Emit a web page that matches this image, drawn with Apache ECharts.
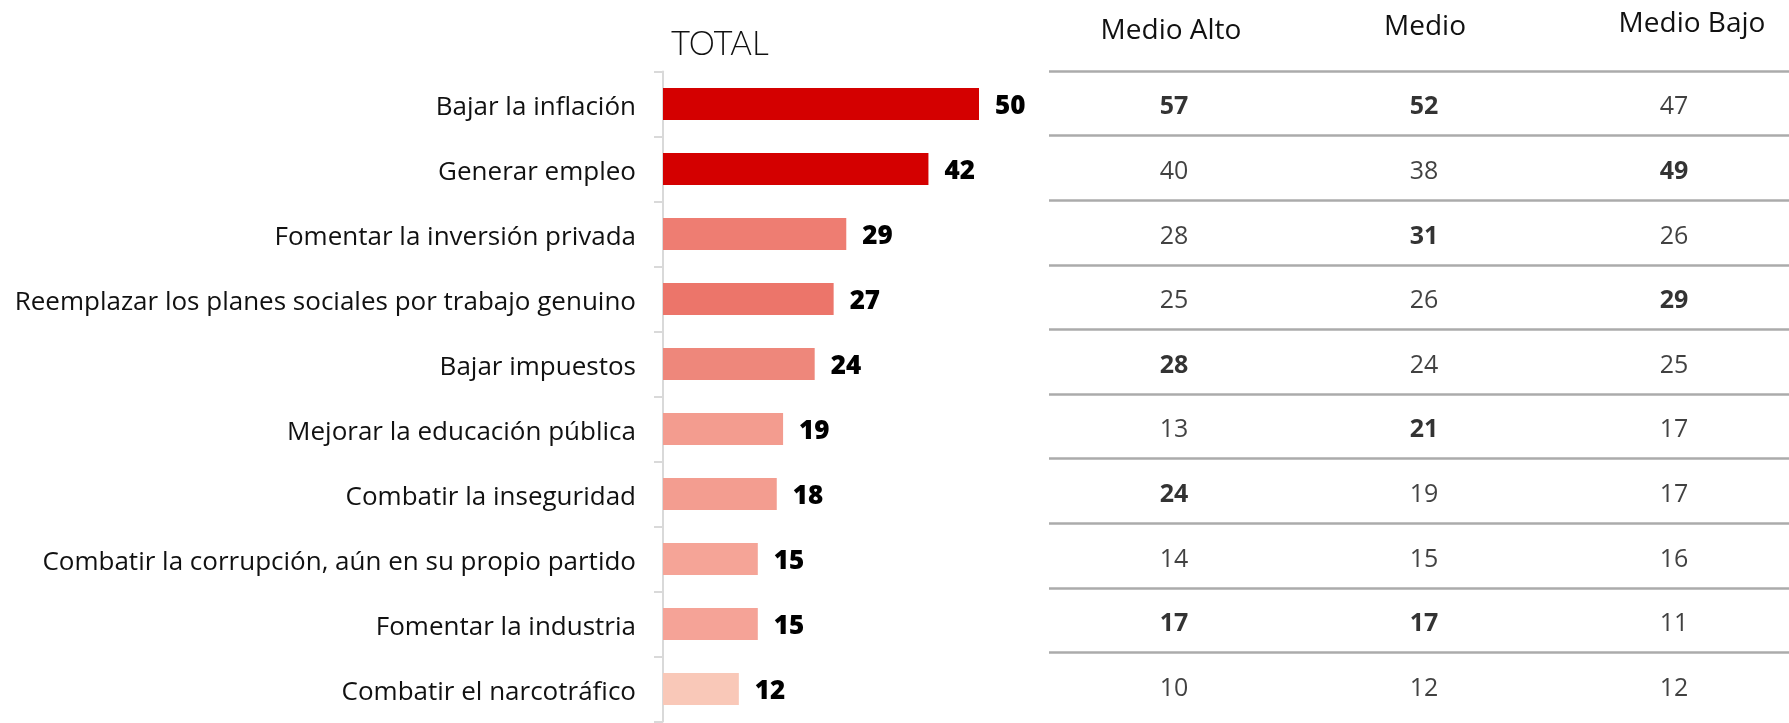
<!DOCTYPE html>
<html><head><meta charset="utf-8">
<script src="https://cdn.jsdelivr.net/npm/echarts@6/dist/echarts.min.js"></script>
<style>html,body{margin:0;padding:0;background:#fff}#c{width:1789px;height:723px}</style>
</head><body><div id="c"></div>
<script>
const categories = ['Bajar la inflación','Generar empleo','Fomentar la inversión privada','Reemplazar los planes sociales por trabajo genuino','Bajar impuestos','Mejorar la educación pública','Combatir la inseguridad','Combatir la corrupción, aún en su propio partido','Fomentar la industria','Combatir el narcotráfico'];
const totalValues = [50,42,29,27,24,19,18,15,15,12];
const barColors = ['#d40000','#d40000','#ee7d72','#ec756a','#ee877b','#f39c8f','#f39d90','#f5a497','#f5a397','#f9c8b8'];
const segments = ['Medio Alto','Medio','Medio Bajo'];
const medioAlto = [57,40,28,25,28,13,24,14,17,10];
const medio = [52,38,31,26,24,21,19,15,17,12];
const medioBajo = [47,49,26,29,25,17,17,16,11,12];
const boldMedioAlto = [1,0,0,0,1,0,1,0,1,0];
const boldMedio = [1,0,1,0,0,1,0,0,1,0];
const boldMedioBajo = [0,1,0,1,0,0,0,0,0,0];
const totalTitle = 'TOTAL';

const FONT = '"Open Sans"';
const tableCols = [medioAlto, medio, medioBajo];
const tableBold = [boldMedioAlto, boldMedio, boldMedioBajo];

const tableSeries = tableCols.map((col, k) => ({
  type: 'scatter', xAxisIndex: 1, yAxisIndex: 1,
  symbol: 'circle', symbolSize: 2, symbolOffset: [0, 4],
  itemStyle: {color: 'rgba(255,255,255,0)'},
  silent: true,
  data: col.map((v, i) => ({
    value: [k, i, v],
    label: {fontWeight: tableBold[k][i] ? 'bold' : 'normal', color: tableBold[k][i] ? '#000' : '#111'}
  })),
  label: {
    show: true, position: 'inside',
    formatter: p => String(p.value[2]),
    fontFamily: FONT, fontSize: 25, color: '#111'
  },
  labelLayout: {hideOverlap: false}
}));

const chart = echarts.init(document.getElementById('c'), null, {renderer: 'canvas'});
chart.setOption({
  animation: false,
  backgroundColor: '#fff',
  title: {text: totalTitle, left: 666, top: 23,
    textStyle: {fontFamily: 'Lato', fontSize: 33, fontWeight: 300, color: '#111'}},
  grid: [
    {left: 663, top: 71.5, width: 379.2, height: 650, outerBoundsMode: 'none', containLabel: false},
    {left: 1049, top: 71, width: 750, height: 646, outerBoundsMode: 'none', containLabel: false}
  ],
  xAxis: [
    {gridIndex: 0, type: 'value', min: 0, max: 60, show: false},
    {gridIndex: 1, type: 'category', data: segments, position: 'top',
      axisLine: {show: false}, axisTick: {show: false}, splitLine: {show: false},
      axisLabel: {
        interval: 0, hideOverlap: false,
        margin: 26, fontFamily: FONT, fontSize: 28, color: '#111',
        formatter: (v, i) => '{h' + i + '|' + v + '}',
        rich: {
          h0: {fontFamily: FONT, fontSize: 28, color: '#111', padding: [0, 6, 0, 0]},
          h1: {fontFamily: FONT, fontSize: 28, color: '#111', padding: [0, 0, 4, 2]},
          h2: {fontFamily: FONT, fontSize: 28, color: '#111', padding: [0, 0, 7, 36]}
        }
      }}
  ],
  yAxis: [
    {gridIndex: 0, type: 'category', data: categories, inverse: true,
      axisLine: {show: true, lineStyle: {color: '#d9d9d9', width: 2}},
      axisTick: {show: true, length: 9, lineStyle: {color: '#d9d9d9', width: 2}},
      splitLine: {show: false},
      axisLabel: {interval: 0, margin: 27, verticalAlign: 'top', lineHeight: 7,
        fontFamily: FONT, fontSize: 26, color: '#111'}},
    {gridIndex: 1, type: 'category', data: categories, inverse: true,
      axisLine: {show: false}, axisTick: {show: false}, axisLabel: {show: false},
      splitLine: {show: true, showMinLine: true, showMaxLine: false,
        lineStyle: {color: '#ababab', width: 2.5}}}
  ],
  series: [
    {type: 'bar', xAxisIndex: 0, yAxisIndex: 0, barWidth: 32,
      data: totalValues.map((v, i) => ({value: v, itemStyle: {color: barColors[i]}})),
      label: {show: true, position: 'right', distance: 16, offset: [0, 3],
        fontFamily: FONT, fontSize: 26, fontWeight: 800, color: '#000'}},
    ...tableSeries
  ]
});
</script></body></html>
